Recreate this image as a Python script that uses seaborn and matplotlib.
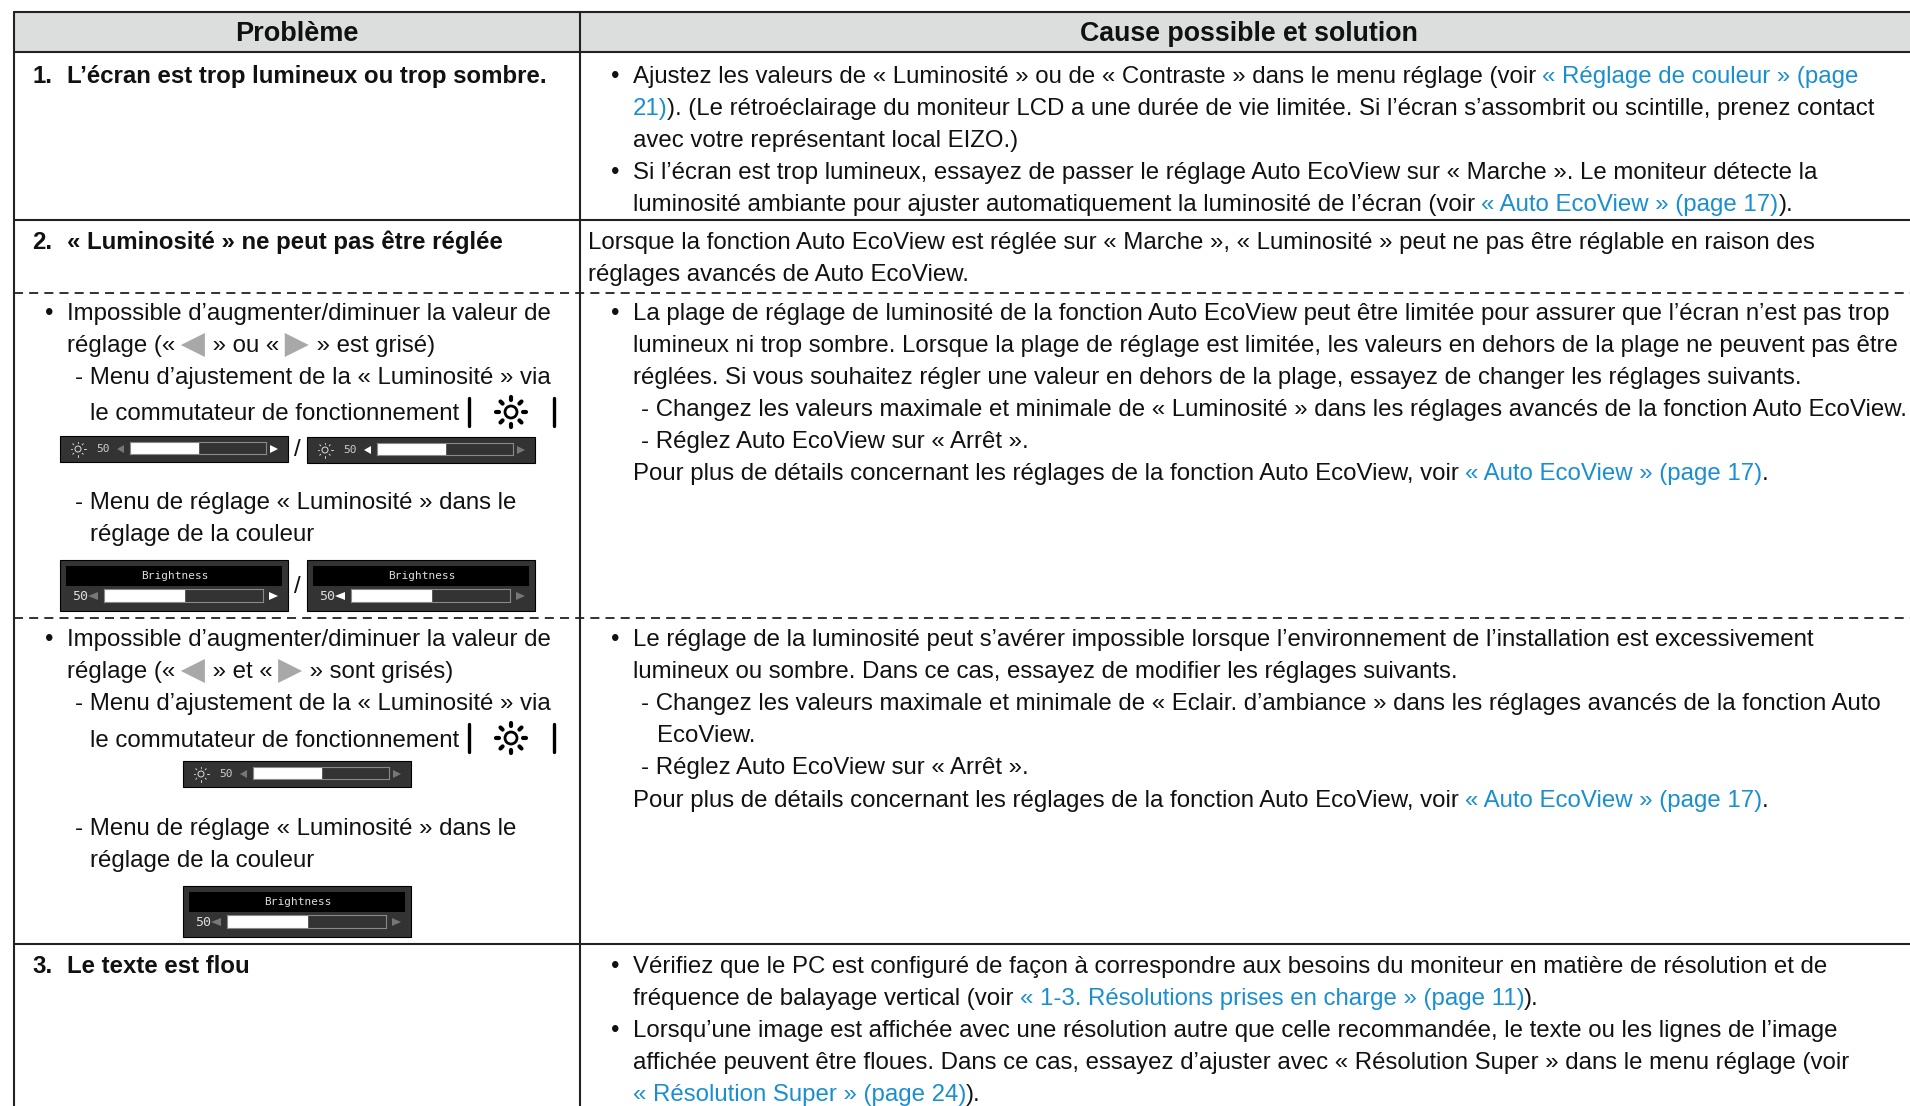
import re
import matplotlib
matplotlib.use("Agg")
import matplotlib.pyplot as plt
import matplotlib.patches as ptc
import seaborn as sns

W, H = 1910, 1106
FONT_PT = 17.31
LINK = "#1a8fd0"
INK = "#111111"
DOWN = 1  # baselines sit a little lower than first read

headers = ["Problème", "Cause possible et solution"]

# {..} = link text, @L / @R = the grey arrows inside a line
left_bold = [
    ("1.", "L’écran est trop lumineux ou trop sombre.", 82),
    ("2.", "« Luminosité » ne peut pas être réglée", 248),
    ("3.", "Le texte est flou", 972),
]
left_lines = [
    (45, "•", 319), (67, "Impossible d’augmenter/diminuer la valeur de", 319),
    (67, "réglage (« @L » ou « @R » est grisé)", 351),
    (74.5, "- Menu d’ajustement de la « Luminosité » via", 383),
    (90, "le commutateur de fonctionnement", 419),
    (74.5, "- Menu de réglage « Luminosité » dans le", 508),
    (90, "réglage de la couleur", 540),
    (45, "•", 645), (67, "Impossible d’augmenter/diminuer la valeur de", 645),
    (67, "réglage (« @L » et « @R » sont grisés)", 677),
    (74.5, "- Menu d’ajustement de la « Luminosité » via", 709),
    (90, "le commutateur de fonctionnement", 746),
    (74.5, "- Menu de réglage « Luminosité » dans le", 834),
    (90, "réglage de la couleur", 866),
]
right_lines = [
    (611, "•", 82),
    (632.5, "Ajustez les valeurs de « Luminosité » ou de « Contraste » dans le menu réglage (voir {« Réglage de couleur » (page}", 82),
    (632.5, "{21)}). (Le rétroéclairage du moniteur LCD a une durée de vie limitée. Si l’écran s’assombrit ou scintille, prenez contact", 114),
    (632.5, "avec votre représentant local EIZO.)", 146),
    (611, "•", 178),
    (632.5, "Si l’écran est trop lumineux, essayez de passer le réglage Auto EcoView sur « Marche ». Le moniteur détecte la", 178),
    (632.5, "luminosité ambiante pour ajuster automatiquement la luminosité de l’écran (voir {« Auto EcoView » (page 17)}).", 210),
    (588, "Lorsque la fonction Auto EcoView est réglée sur « Marche », « Luminosité » peut ne pas être réglable en raison des", 248),
    (588, "réglages avancés de Auto EcoView.", 280),
    (611, "•", 319),
    (632.5, "La plage de réglage de luminosité de la fonction Auto EcoView peut être limitée pour assurer que l’écran n’est pas trop", 319),
    (632.5, "lumineux ni trop sombre. Lorsque la plage de réglage est limitée, les valeurs en dehors de la plage ne peuvent pas être", 351),
    (632.5, "réglées. Si vous souhaitez régler une valeur en dehors de la plage, essayez de changer les réglages suivants.", 383),
    (641, "- Changez les valeurs maximale et minimale de « Luminosité » dans les réglages avancés de la fonction Auto EcoView.", 415),
    (641, "- Réglez Auto EcoView sur « Arrêt ».", 447),
    (632.5, "Pour plus de détails concernant les réglages de la fonction Auto EcoView, voir {« Auto EcoView » (page 17)}.", 479),
    (611, "•", 645),
    (632.5, "Le réglage de la luminosité peut s’avérer impossible lorsque l’environnement de l’installation est excessivement", 645),
    (632.5, "lumineux ou sombre. Dans ce cas, essayez de modifier les réglages suivants.", 677),
    (641, "- Changez les valeurs maximale et minimale de « Eclair. d’ambiance » dans les réglages avancés de la fonction Auto", 709),
    (656.5, "EcoView.", 741),
    (641, "- Réglez Auto EcoView sur « Arrêt ».", 773),
    (632.5, "Pour plus de détails concernant les réglages de la fonction Auto EcoView, voir {« Auto EcoView » (page 17)}.", 806),
    (611, "•", 972),
    (632.5, "Vérifiez que le PC est configuré de façon à correspondre aux besoins du moniteur en matière de résolution et de", 972),
    (632.5, "fréquence de balayage vertical (voir {« 1-3. Résolutions prises en charge » (page 11)}).", 1004),
    (611, "•", 1036),
    (632.5, "Lorsqu’une image est affichée avec une résolution autre que celle recommandée, le texte ou les lignes de l’image", 1036),
    (632.5, "affichée peuvent être floues. Dans ce cas, essayez d’ajuster avec « Résolution Super » dans le menu réglage (voir", 1068),
    (632.5, "{« Résolution Super » (page 24)}).", 1100),
]

# brightness setting shown in the on-screen menus
slider_value = 50
slider_title = "Brightness"

sns.set_theme(style="white")
plt.rcParams["font.family"] = ["Liberation Sans", "DejaVu Sans"]

fig = plt.figure(figsize=(W / 100, H / 100), dpi=100)
ax = fig.add_axes([0, 0, 1, 1])
ax.set_xlim(0, W)
ax.set_ylim(H, 0)
ax.axis("off")
rend = fig.canvas.get_renderer()


def text_w(s):
    # sentinel keeps trailing spaces in the measure
    a = ax.text(0, 0, "x" + s + "x", fontsize=FONT_PT)
    b = ax.text(0, 0, "xx", fontsize=FONT_PT)
    w = a.get_window_extent(rend).width - b.get_window_extent(rend).width
    a.remove()
    b.remove()
    return w


def arrow(x0, x1, yc, half, left, color):
    if left:
        pts = [(x1, yc - half), (x1, yc + half), (x0, yc)]
    else:
        pts = [(x0, yc - half), (x0, yc + half), (x1, yc)]
    ax.add_patch(ptc.Polygon(pts, closed=True, fc=color, ec="none", zorder=3))


def draw_line(x, line, y):
    for part in re.split(r"(\{.*?\}|@L|@R)", line):
        if not part:
            continue
        if part in ("@L", "@R"):
            arrow(x - 1, x + 23, y - 7, 12, part == "@L", "#a8a8a8")
            x += 24
            continue
        color = INK
        if part.startswith("{"):
            part = part[1:-1]
            color = LINK
        ax.text(x, y, part, fontsize=FONT_PT, color=color, va="baseline", ha="left")
        x += text_w(part)


def sun(x, y, r, color, lw, ray_lw=None):
    ax.add_patch(ptc.Circle((x, y), r, fc="none", ec=color, lw=lw, zorder=4))
    for dx, dy in [(1, 0), (-1, 0), (0, 1), (0, -1), (.7, .7), (-.7, .7), (.7, -.7), (-.7, -.7)]:
        ax.plot([x + dx * r * 2, x + dx * r * 2.5], [y + dy * r * 2, y + dy * r * 2.5],
                color=color, lw=ray_lw or lw, zorder=4, solid_capstyle="round")


def track(x0, x1, y0, y1):
    t = fig.add_axes([x0 / W, 1 - y1 / H, (x1 - x0) / W, (y1 - y0) / H])
    t.set_facecolor("#333333")
    sns.barplot(x=[slider_value], y=[""], orient="h", color="white", saturation=1, width=1, ax=t)
    t.set_xlim(0, 100)
    t.set_ylim(-0.5, 0.5)
    t.set_xticks([])
    t.set_yticks([])
    t.set_xlabel("")
    t.set_ylabel("")
    for s in t.spines.values():
        s.set_color("#8a8a8a")
        s.set_linewidth(0.8)


def small_menu(x0, y0, right_on, left_on):
    ax.add_patch(ptc.Rectangle((x0, y0), 228, 26, fc="#333333", ec="black", lw=0.8, zorder=2))
    sun(x0 + 18, y0 + 13, 3, "#dddddd", 0.7)
    ax.text(x0 + 43, y0 + 13, str(slider_value), color="#cccccc", fontsize=8, family="DejaVu Sans Mono",
            ha="center", va="center", zorder=4)
    arrow(x0 + 57, x0 + 64, y0 + 13, 4, True, "#ffffff" if left_on else "#777777")
    arrow(x0 + 210, x0 + 218, y0 + 13, 4, False, "#ffffff" if right_on else "#777777")
    track(x0 + 70, x0 + 206, y0 + 6, y0 + 18)


def big_menu(x0, y0, right_on, left_on):
    ax.add_patch(ptc.Rectangle((x0, y0), 228, 51, fc="#333333", ec="black", lw=0.8, zorder=2))
    ax.add_patch(ptc.Rectangle((x0 + 6, y0 + 6), 216, 20, fc="black", ec="none", zorder=3))
    ax.text(x0 + 115, y0 + 16, slider_title, color="#dddddd", fontsize=8, family="DejaVu Sans Mono",
            ha="center", va="center", zorder=4)
    ax.text(x0 + 20, y0 + 36, str(slider_value), color="#dddddd", fontsize=9.5, family="DejaVu Sans Mono",
            ha="center", va="center", zorder=4)
    arrow(x0 + 28, x0 + 38, y0 + 36, 4, True, "#ffffff" if left_on else "#777777")
    arrow(x0 + 209, x0 + 218, y0 + 36, 4, False, "#ffffff" if right_on else "#777777")
    track(x0 + 44, x0 + 203, y0 + 29, y0 + 42)


def switch_icons(y):
    for bx in (469, 554):
        ax.plot([bx, bx], [y - 14, y + 14], color="black", lw=2.4, solid_capstyle="round")
    sun(511, y, 6, "black", 2, 3)


# table frame
ax.add_patch(ptc.Rectangle((14, 12), W, 40, fc="#dcdddd", ec="none", zorder=0))
for y in (12, 52, 220, 944):
    ax.plot([14, W], [y, y], color="#222222", lw=1.5, zorder=1)
for y in (293, 618):
    ax.plot([14, W], [y, y], color="#222222", lw=1.3, ls=(0, (5, 3.4)), zorder=1)
ax.plot([14, 14], [12, H], color="#222222", lw=1.5, zorder=1)
ax.plot([580, 580], [12, H], color="#222222", lw=1.5, zorder=1)

ax.text(297, 41, headers[0], fontsize=19.5, fontweight="bold", ha="center", va="baseline", color=INK)
ax.text(1249, 41, headers[1], fontsize=19.3, fontweight="bold", ha="center", va="baseline", color=INK)

for num, txt, y in left_bold:
    ax.text(32, y + DOWN, num, fontsize=FONT_PT, fontweight="bold", color=INK)
    ax.text(67, y + DOWN, txt, fontsize=FONT_PT, fontweight="bold", color=INK)
for x, line, y in left_lines + right_lines:
    draw_line(x, line, y + DOWN)

switch_icons(412)
switch_icons(738)
small_menu(60, 436, True, False)
ax.text(297, 456, "/", fontsize=FONT_PT, color=INK, ha="center")
small_menu(307, 437, False, True)
big_menu(60, 560, True, False)
ax.text(297, 593, "/", fontsize=FONT_PT, color=INK, ha="center")
big_menu(307, 560, False, True)
small_menu(183, 761, False, False)
big_menu(183, 886, False, False)

fig.savefig("out.png", dpi=100)
